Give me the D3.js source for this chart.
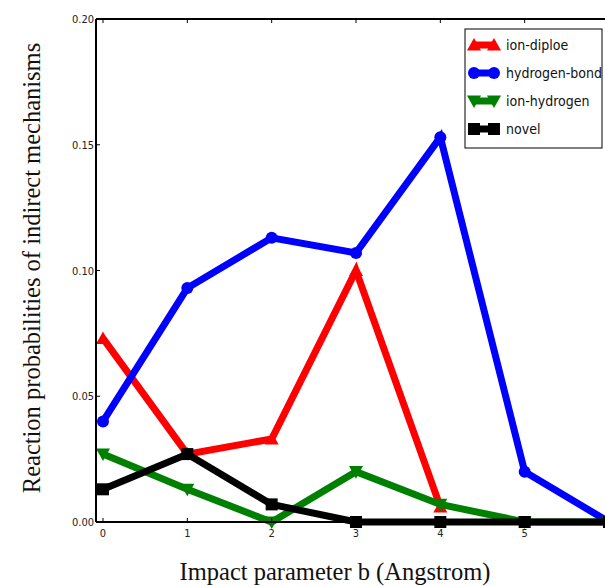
<!DOCTYPE html>
<html><head><meta charset="utf-8">
<script src="https://cdn.jsdelivr.net/npm/d3@7"></script>
<style>body{margin:0;background:#fff}svg{display:block}</style>
</head><body><svg id="c" width="605" height="586"></svg>
<script>
const xs = [0,1,2,3,4,5,6];
const xTicks = [0,1,2,3,4,5];
const yTicks = [0.00,0.05,0.10,0.15,0.20];
const ionDiploe = [0.073,0.027,0.033,0.100,0.006];
const hydrogenBond = [0.040,0.093,0.113,0.107,0.153,0.020,0.000];
const ionHydrogen = [0.027,0.013,0.000,0.020,0.007,0.000,0.000];
const novel = [0.013,0.027,0.007,0.000,0.000,0.000,0.000];
const seriesNames = ["ion-diploe","hydrogen-bond","ion-hydrogen","novel"];
const seriesColors = ["#ff0000","#0000ff","#008000","#000000"];
const seriesSymbols = ["triUp","circle","triDown","square"];
const seriesData = [ionDiploe,hydrogenBond,ionHydrogen,novel];

const svg = d3.select("#c");
const L=96, R=616, T=19, B=522;
const x = d3.scaleLinear().domain([-0.083,6.083]).range([L,R]);
const y = d3.scaleLinear().domain([0,0.20]).range([B,T]);

function marker(g, type, cx, cy, color){
  const s=7;
  if(type==="circle") g.append("circle").attr("cx",cx).attr("cy",cy).attr("r",6).attr("fill",color);
  else if(type==="square") g.append("rect").attr("x",cx-6).attr("y",cy-6).attr("width",12).attr("height",12).attr("fill",color);
  else if(type==="triUp") g.append("path").attr("d",`M${cx},${cy-s}L${cx+s},${cy+s*0.8}L${cx-s},${cy+s*0.8}Z`).attr("fill",color);
  else g.append("path").attr("d",`M${cx},${cy+s}L${cx+s},${cy-s*0.8}L${cx-s},${cy-s*0.8}Z`).attr("fill",color);
}

const plot = svg.append("g");
plot.append("clipPath").attr("id","clip").append("rect").attr("x",L).attr("y",T-10).attr("width",R-L+10).attr("height",B-T+20);
const pg = plot.append("g").attr("clip-path","url(#clip)");
const line = d3.line().x((d,i)=>x(xs[i])).y(d=>y(d));
seriesData.forEach((data,k)=>{
  pg.append("path").datum(data).attr("d",line).attr("fill","none")
    .attr("stroke",seriesColors[k]).attr("stroke-width",7).attr("stroke-linejoin","miter");
  data.forEach((v,i)=>marker(pg,seriesSymbols[k],x(xs[i]),y(v),seriesColors[k]));
});

// frame
const ax = svg.append("g");
ax.append("line").attr("x1",L).attr("x2",605).attr("y1",T).attr("y2",T).attr("stroke","#000").attr("stroke-width",2);
ax.append("line").attr("x1",L).attr("x2",L).attr("y1",T).attr("y2",B).attr("stroke","#000").attr("stroke-width",2);
ax.append("line").attr("x1",L).attr("x2",605).attr("y1",B).attr("y2",B).attr("stroke","#000").attr("stroke-width",2);

const tickFont = "'DejaVu Sans Condensed','Liberation Sans Narrow',sans-serif";
xTicks.forEach(t=>{
  ax.append("line").attr("x1",x(t)).attr("x2",x(t)).attr("y1",B).attr("y2",B-4).attr("stroke","#000");
  ax.append("line").attr("x1",x(t)).attr("x2",x(t)).attr("y1",T).attr("y2",T+4).attr("stroke","#000");
  ax.append("text").attr("x",x(t)).attr("y",B+15).attr("text-anchor","middle")
    .attr("font-family",tickFont).attr("font-stretch","condensed").attr("font-size",11).attr("fill","#222").text(d3.format("d")(t));
});
yTicks.forEach(t=>{
  ax.append("line").attr("x1",L).attr("x2",L+4).attr("y1",y(t)).attr("y2",y(t)).attr("stroke","#000");
  ax.append("text").attr("x",L-2).attr("y",y(t)+4).attr("text-anchor","end")
    .attr("font-family",tickFont).attr("font-stretch","condensed").attr("font-size",11).attr("fill","#222").text(d3.format(".2f")(t));
});

svg.append("text").attr("x",335).attr("y",580).attr("text-anchor","middle")
  .attr("font-family","'Liberation Serif',serif").attr("font-size",24.5).attr("fill","#111").text("Impact parameter b (Angstrom)");
svg.append("text").attr("transform","translate(40,268) rotate(-90)").attr("text-anchor","middle")
  .attr("font-family","'Liberation Serif',serif").attr("font-size",24.5).attr("fill","#111").text("Reaction probabilities of indirect mechanisms");

// legend
const lg = svg.append("g");
lg.append("rect").attr("x",465).attr("y",29).attr("width",137).attr("height",119).attr("fill","#fff").attr("stroke","#000").attr("stroke-width",1);
seriesNames.forEach((n,k)=>{
  const yy = 45 + k*28;
  lg.append("line").attr("x1",474).attr("x2",494).attr("y1",yy).attr("y2",yy).attr("stroke",seriesColors[k]).attr("stroke-width",7);
  marker(lg,seriesSymbols[k],474,yy,seriesColors[k]);
  marker(lg,seriesSymbols[k],494,yy,seriesColors[k]);
  lg.append("text").attr("x",506).attr("y",yy+5).attr("font-family",tickFont).attr("font-stretch","condensed")
    .attr("font-size",14).attr("fill","#111").text(n);
});
</script></body></html>
